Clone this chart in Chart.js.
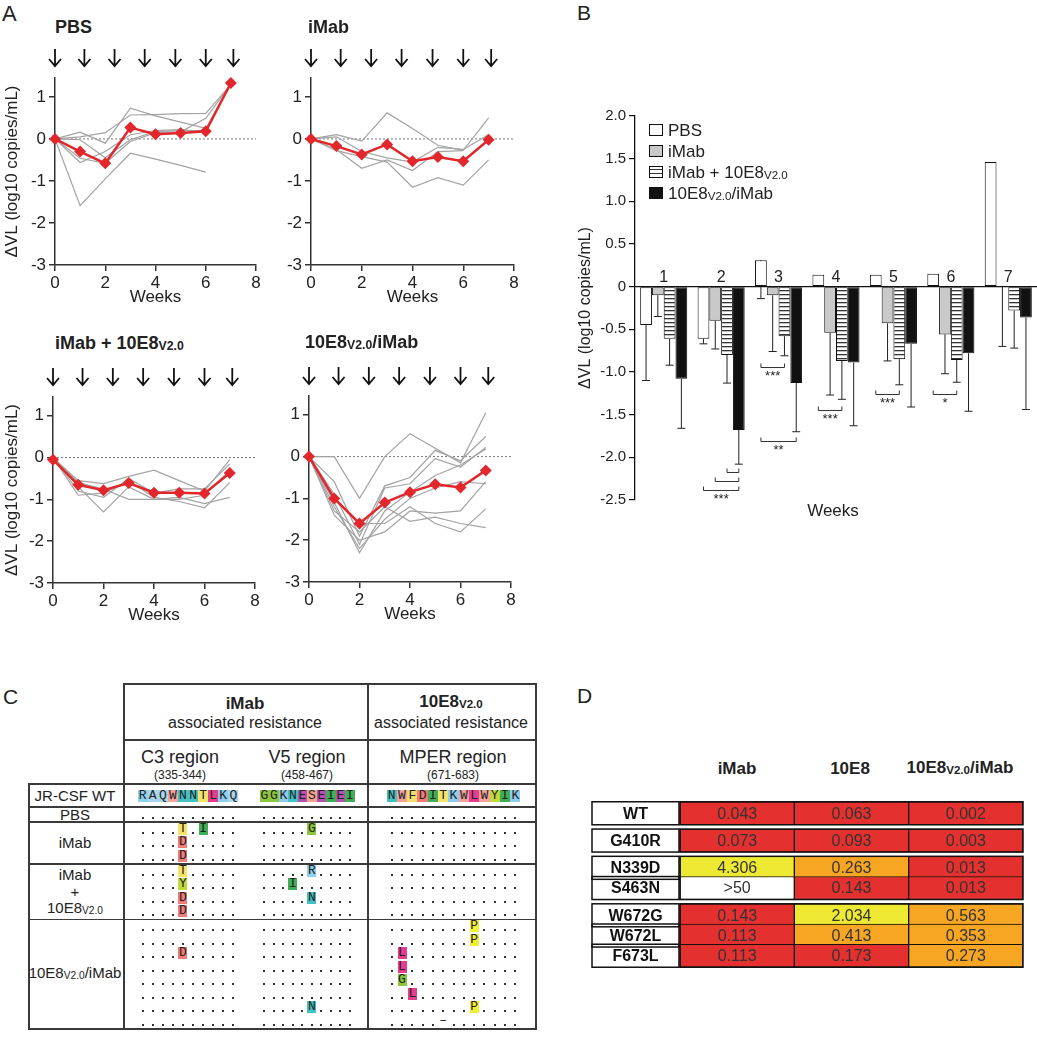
<!DOCTYPE html>
<html>
<head>
<meta charset="utf-8">
<title>Viral load and resistance</title>
<script src="https://cdn.jsdelivr.net/npm/chart.js@4.4.1/dist/chart.umd.min.js"></script>
<style>
  body{margin:0;background:#fff;font-family:"Liberation Sans",Arial,sans-serif;color:#222}
  #page{position:relative;width:1037px;height:1050px;overflow:hidden}
  #page canvas{position:absolute}
  .t{position:absolute;white-space:nowrap;line-height:1;transform:translate(-50%,-50%)}
  .l{position:absolute;white-space:nowrap;line-height:1}
  .s{font-size:68%;vertical-align:-0.12em}
  .b{font-weight:bold}
  .ln{position:absolute;background:#3a3a3a}
  .aa{position:absolute;font-family:"Liberation Mono","DejaVu Sans Mono",monospace;font-size:13px;line-height:12px;height:12px;text-align:center;color:#222}
  .dot{position:absolute;width:2px;height:2px;background:#333}
  .key{position:absolute;width:12px;height:10px;border:1px solid #111}
</style>
</head>
<body>
<div id="page"></div>
<script>
// panel A : change of viral load per week
var weeks=[0,1,2,3,4,5,6,7]
var doseWeeks=[0,1.17,2.37,3.57,4.79,6.0,7.1]

var pbsMean=[0,-0.3,-0.58,0.27,0.11,0.14,0.18,1.33]
var pbsAnimals=[
  [0,0.16,-0.1,0.73,0.55,0.4,0.25,1.3],
  [0,0.05,0.15,0.57,0.58,0.6,0.61,1.3],
  [0,-0.02,-0.45,-0.02,0.18,0.2,0.2,null],
  [0,-0.46,-0.58,-0.06,0.15,0.17,0.49,1.3],
  [0,-1.59,-0.95,-0.34,-0.48,-0.63,-0.79,null],
  [0,-0.56,-0.3,0.1,0.2,0.22,0.17,null]
]
var imabMean=[0,-0.17,-0.37,-0.13,-0.53,-0.43,-0.53,-0.02]
var imabAnimals=[
  [0,0.1,-0.05,0.62,0.25,-0.15,-0.27,0.5],
  [0,-0.25,-0.7,-0.5,-0.75,-0.3,-0.28,null],
  [0,-0.28,-0.42,-0.55,-1.15,-0.92,-1.1,-0.5],
  [0,0.05,-0.3,-0.45,-0.55,-0.2,-0.25,0.1]
]
var comboMean=[-0.05,-0.65,-0.78,-0.61,-0.84,-0.84,-0.86,-0.37]
var comboAnimals=[
  [0,-0.55,-0.62,-0.45,-0.3,-0.55,-0.8,-0.05],
  [0,-0.8,-0.95,-0.5,-0.85,-0.75,-0.75,-0.15],
  [0,-0.7,-1.3,-0.7,-1.0,-0.95,-1.1,-0.95],
  [0,-0.6,-0.75,-1.0,-1.0,-1.0,-0.9,-0.3],
  [0,-0.9,-0.85,-0.55,-0.95,-1.05,-1.2,-0.6]
]
var bispMean=[0,-1.0,-1.6,-1.1,-0.85,-0.66,-0.74,-0.33]
var bispAnimals=[
  [0,0,-1.0,0,0.55,0.2,-0.15,1.05],
  [0,-0.6,-1.9,-0.7,-0.5,0.15,-0.1,0.48],
  [0,-0.9,-2.1,-0.75,-0.65,-0.05,-0.25,0.22],
  [0,-1.1,-2.3,-1.3,-0.85,-0.45,-0.2,0.18],
  [0,-1.2,-2.2,-1.5,-1.0,-0.75,-0.6,-0.65],
  [0,-1.3,-1.8,-1.2,-1.55,-1.45,-1.6,-1.7],
  [0,-1.4,-2.0,-1.8,-1.3,-1.35,-1.3,-0.6],
  [0,-1.0,-1.6,-1.6,-1.2,-1.6,-1.8,-1.25]
]

// panel B : mean change and SD per week
var barWeeks=['1','2','3','4','5','6','7']
var pbsVL=[-0.45,-0.61,0.31,0.14,0.14,0.15,1.46]
var pbsSD=[0.65,0.06,0.45,null,null,null,null]
var imabVL=[-0.10,-0.40,-0.10,-0.54,-0.43,-0.56,0]
var imabSD=[0.25,0.33,0.66,0.73,0.44,0.46,0.70]
var comboVL=[-0.61,-0.80,-0.58,-0.87,-0.85,-0.86,-0.28]
var comboSD=[0.31,0.33,0.23,0.45,0.30,0.26,0.44]
var bispVL=[-1.08,-1.68,-1.13,-0.89,-0.67,-0.78,-0.36]
var bispSD=[0.58,0.40,0.57,0.74,0.74,0.68,1.08]
var sigWeek=[1,1,1,2,2,3,4,5]
var sigFrom=[2,1,0,0,0,0,0,0]
var sigTo=[3,3,3,2,3,2,2,2]
var sigY=[-2.17,-2.28,-2.38,-0.94,-1.81,-1.45,-1.26,-1.26]
var sigStars=['','','***','***','**','***','***','*']

// panel C : sequences
var c3WT='RAQWNNTLKQ'
var v5WT='GGKNESEIEI'
var mperWT='NWFDITKWLWYIK'
var c3Rows=[
  ['..........'],
  ['....T.I...','....D.....','....D.....'],
  ['....T.....','....Y.....','....D.....','....D.....'],
  ['..........','..........','....D.....','..........','..........','..........','..........','..........']
]
var v5Rows=[
  ['..........'],
  ['.....G....','..........','..........'],
  ['.....R....','...I......','.....N....','..........'],
  ['..........','..........','..........','..........','..........','..........','.....N....','..........']
]
var mperRows=[
  ['.............'],
  ['.............','.............','.............'],
  ['.............','.............','.............','.............'],
  ['........P....','........P....','.L...........','.L...........','.G...........','..L..........','........P....','.....-.......']
]

// panel D : IC50
var mutants=['WT','G410R','N339D','S463N','W672G','W672L','F673L']
var mutantGroup=[0,1,2,2,3,3,3]
var ic50iMab=[0.043,0.073,4.306,'>50',0.143,0.113,0.113]
var ic5010E8=[0.063,0.093,0.263,0.143,2.034,0.413,0.173]
var ic50Bisp=[0.002,0.003,0.013,0.013,0.563,0.353,0.273]

var aaColor={R:'#8fd0ec',A:'#a9d6ec',Q:'#a9d6ec',W:'#f4a29a',N:'#45c1c4',T:'#f5e36a',L:'#e63c8d',K:'#8dcdf0',
  G:'#8dc63f',E:'#b352ad',S:'#f5a48c',I:'#3fae55',F:'#f3de6b',D:'#f07b78',Y:'#c2d93e',P:'#f3ee35'}

var page=document.getElementById('page')
Chart.defaults.font.family='"Liberation Sans", Arial, sans-serif'
Chart.defaults.color='#222'

function put(html,x,y,css,cls){
  var d=document.createElement('div')
  d.className=cls||'t'
  d.innerHTML=html
  d.style.left=x+'px'
  d.style.top=y+'px'
  if(css) d.style.cssText+=css
  page.appendChild(d)
  return d
}
function line(x1,y1,x2,y2,w){
  var d=document.createElement('div')
  d.className='ln'
  w=w||1.5
  d.style.left=x1+'px'
  d.style.top=y1+'px'
  d.style.width=(x2>x1? x2-x1 : w)+'px'
  d.style.height=(y2>y1? y2-y1 : w)+'px'
  page.appendChild(d)
}
function makeCanvas(left,top,w,h){
  var c=document.createElement('canvas')
  c.width=w
  c.height=h
  c.style.left=left+'px'
  c.style.top=top+'px'
  c.style.width=w+'px'
  c.style.height=h+'px'
  page.appendChild(c)
  return c
}

// ---------- A ----------
var arrowPlugin={
  id:'arrows',
  afterDraw(chart){
    var ctx=chart.ctx, x=chart.scales.x, top=chart.chartArea.top
    ctx.save()
    ctx.strokeStyle='#111'
    ctx.lineWidth=1.8
    for(let w of doseWeeks){
      let px=x.getPixelForValue(w)
      ctx.beginPath()
      ctx.moveTo(px,top-29)
      ctx.lineTo(px,top-12)
      ctx.moveTo(px-6,top-19)
      ctx.lineTo(px,top-12)
      ctx.lineTo(px+6,top-19)
      ctx.stroke()
    }
    ctx.restore()
  }
}
function toPoints(vals){
  return weeks.map(function(w,i){ return {x:w,y:vals[i]} })
}
function lineChart(box,mean,animals,withTitle){
  var zone=makeCanvas(box.left,box.top,box.w,box.h)
  var datasets=[{data:toPoints(mean),borderColor:'#e2272c',borderWidth:2.5,pointStyle:'rectRot',pointRadius:6,
    pointBackgroundColor:'#e2272c',pointBorderColor:'#e2272c',pointBorderWidth:0,clip:false}]
  for(let a of animals){
    datasets.push({data:toPoints(a),borderColor:'#a3a3a3',borderWidth:1.2,pointRadius:0})
  }
  datasets.push({data:[{x:0,y:0},{x:8,y:0}],borderColor:'#777',borderWidth:1,borderDash:[2,2],pointRadius:0})
  return new Chart(zone,{
    type:'line',
    data:{datasets:datasets},
    options:{
      responsive:false, animation:false, events:[], devicePixelRatio:1,
      layout:{padding:{top:box.pt,right:box.pr,bottom:0,left:0}},
      plugins:{legend:{display:false},tooltip:{enabled:false}},
      scales:{
        x:{type:'linear',min:0,max:8,
          ticks:{stepSize:2,font:{size:17},color:'#222',padding:2},
          grid:{drawOnChartArea:false,tickLength:6,color:'#333',lineWidth:1.5},
          border:{color:'#333',width:1.5},
          title:{display:true,text:'Weeks',font:{size:17},color:'#222',padding:{top:0,bottom:2}},
          afterFit:function(s){ s.height=45 }},
        y:{min:-3,max:1.45,
          ticks:{stepSize:1,font:{size:17},color:'#222',padding:3,autoSkip:false},
          afterBuildTicks:function(s){ s.ticks=s.ticks.filter(function(t){ return Number.isInteger(t.value) }) },
          grid:{drawOnChartArea:false,tickLength:6,color:'#333',lineWidth:1.5},
          border:{color:'#333',width:1.5},
          title:{display:withTitle,text:'ΔVL (log10 copies/mL)',font:{size:17},color:'#222',padding:{top:2,bottom:0}},
          afterFit:function(s){ s.width=box.yw }}
      }
    },
    plugins:[arrowPlugin]
  })
}

put('A',2,3,'font-size:22px','l')
lineChart({left:0,top:40,w:270,h:270,pt:38,pr:14,yw:55},pbsMean,pbsAnimals,true)
lineChart({left:256,top:40,w:272,h:270,pt:38,pr:14,yw:55},imabMean,imabAnimals,false)
lineChart({left:0,top:359,w:270,h:269,pt:38,pr:15,yw:53},comboMean,comboAnimals,true)
lineChart({left:254,top:358,w:271,h:269,pt:38,pr:14,yw:55},bispMean,bispAnimals,false)
put('PBS',55,18,'font-size:18px','l b')
put('iMab',308,18,'font-size:18px','l b')
put('iMab + 10E8<span class="s">V2.0</span>',55,334,'font-size:18px','l b')
put('10E8<span class="s">V2.0</span>/iMab',305,333,'font-size:18px','l b')

// ---------- B ----------
var zoneB=makeCanvas(570,100,467,412)
var gb=zoneB.getContext('2d')
var tile=document.createElement('canvas')
tile.width=4
tile.height=4
var tg=tile.getContext('2d')
tg.fillStyle='#fff'
tg.fillRect(0,0,4,4)
tg.fillStyle='#333'
tg.fillRect(0,2,4,1.3)
var stripes=gb.createPattern(tile,'repeat')

var barExtras={
  id:'barExtras',
  beforeDatasetsDraw(chart){
    var ctx=chart.ctx, y=chart.scales.y
    ctx.save()
    ctx.strokeStyle='#222'
    ctx.lineWidth=1
    chart.data.datasets.forEach(function(ds,i){
      chart.getDatasetMeta(i).data.forEach(function(bar,j){
        var sd=ds.sd[j]
        if(sd==null) return
        var y0=y.getPixelForValue(ds.data[j]), y1=y.getPixelForValue(ds.data[j]-sd)
        ctx.beginPath()
        ctx.moveTo(bar.x,y0)
        ctx.lineTo(bar.x,y1)
        ctx.moveTo(bar.x-4,y1)
        ctx.lineTo(bar.x+4,y1)
        ctx.stroke()
      })
    })
    ctx.restore()
  },
  afterDatasetsDraw(chart){
    var ctx=chart.ctx, x=chart.scales.x, y=chart.scales.y
    ctx.save()
    ctx.fillStyle='#222'
    ctx.textAlign='center'
    ctx.textBaseline='middle'
    ctx.font='16px "Liberation Sans", Arial'
    barWeeks.forEach(function(w,j){
      ctx.fillText(w,x.getPixelForValue(j),y.getPixelForValue(0)-9)
    })
    ctx.strokeStyle='#333'
    ctx.lineWidth=1
    ctx.font='13px "Liberation Sans", Arial'
    ctx.textBaseline='top'
    for(let k=0;k<sigWeek.length;k++){
      let xa=chart.getDatasetMeta(sigFrom[k]).data[sigWeek[k]].x
      let xb=chart.getDatasetMeta(sigTo[k]).data[sigWeek[k]].x
      let py=Math.round(y.getPixelForValue(sigY[k]))+0.5
      ctx.beginPath()
      ctx.moveTo(xa,py-4)
      ctx.lineTo(xa,py)
      ctx.lineTo(xb,py)
      ctx.lineTo(xb,py-4)
      ctx.stroke()
      if(sigStars[k]) ctx.fillText(sigStars[k],(xa+xb)/2,py+2)
    }
    ctx.restore()
  }
}

new Chart(zoneB,{
  type:'bar',
  data:{
    labels:barWeeks,
    datasets:[
      {label:'PBS',data:pbsVL,sd:pbsSD,backgroundColor:'#fff',borderColor:'#111',borderWidth:1,borderSkipped:false},
      {label:'iMab',data:imabVL,sd:imabSD,backgroundColor:'#c9c9c9',borderColor:'#111',borderWidth:1,borderSkipped:false},
      {label:'iMab + 10E8V2.0',data:comboVL,sd:comboSD,backgroundColor:stripes,borderColor:'#111',borderWidth:1,borderSkipped:false},
      {label:'10E8V2.0/iMab',data:bispVL,sd:bispSD,backgroundColor:'#111',borderColor:'#111',borderWidth:1,borderSkipped:false}
    ]
  },
  options:{
    responsive:false, animation:false, events:[], devicePixelRatio:1,
    categoryPercentage:0.82, barPercentage:1,
    layout:{padding:{top:16,right:0,bottom:2,left:0}},
    plugins:{legend:{display:false},tooltip:{enabled:false}},
    scales:{
      x:{position:{y:0},grid:{display:false},ticks:{display:false},border:{color:'#111',width:1.3}},
      y:{min:-2.5,max:2,
        ticks:{stepSize:0.5,font:{size:15},color:'#222',padding:3,
          callback:function(v){ return v===0? '0' : v.toFixed(1) }},
        grid:{drawOnChartArea:false,tickLength:6,color:'#111',lineWidth:1.2},
        border:{color:'#111',width:1.3},
        title:{display:true,text:'ΔVL (log10 copies/mL)',font:{size:16},color:'#222',padding:{top:6,bottom:0}},
        afterFit:function(s){ s.width=65 }}
    }
  },
  plugins:[barExtras]
})
put('B',577,2,'font-size:21px','l')
put('Weeks',833,510,'font-size:17px')
var legendNames=['PBS','iMab','iMab + 10E8<span class="s">V2.0</span>','10E8<span class="s">V2.0</span>/iMab']
var legendFills=['#fff','#c9c9c9','repeating-linear-gradient(#fff 0 2px,#333 2px 3.3px,#fff 3.3px 4px)','#111']
legendNames.forEach(function(n,i){
  var cy=130+i*21
  var k=document.createElement('div')
  k.className='key'
  k.style.left='649px'
  k.style.top=(cy-6)+'px'
  k.style.background=legendFills[i]
  page.appendChild(k)
  put(n,668,cy-8,'font-size:17px','l')
})

// ---------- C ----------
put('C',3,686,'font-size:21px','l')
var regions=[
  {wt:c3WT,rows:c3Rows,x0:142.7,step:10.07},
  {wt:v5WT,rows:v5Rows,x0:264.3,step:9.5},
  {wt:mperWT,rows:mperRows,x0:391.7,step:10.3}
]
function aaCell(ch,cx,cy,w){
  var d=document.createElement('div')
  d.className='aa'
  d.textContent=ch
  d.style.left=(cx-w/2)+'px'
  d.style.top=(cy-6)+'px'
  d.style.width=w+'px'
  if(aaColor[ch]) d.style.background=aaColor[ch]
  page.appendChild(d)
}
function dot(cx,cy){
  var d=document.createElement('div')
  d.className='dot'
  d.style.left=(cx-1)+'px'
  d.style.top=(cy+3)+'px'
  page.appendChild(d)
}
put('iMab',245,703,'font-size:17px','t b')
put('associated resistance',245,723,'font-size:16px')
put('10E8<span class="s">V2.0</span>',451,702,'font-size:17px','t b')
put('associated resistance',451,723,'font-size:16px')
put('C3 region',180,757,'font-size:18px')
put('(335-344)',180,775,'font-size:12px')
put('V5 region',307,757,'font-size:18px')
put('(458-467)',307,775,'font-size:12px')
put('MPER region',453,757,'font-size:18px')
put('(671-683)',453,775,'font-size:12px')
put('JR-CSF WT',75,795,'font-size:15px')

regions.forEach(function(r){
  for(let i=0;i<r.wt.length;i++) aaCell(r.wt[i],r.x0+i*r.step,795.5,r.step)
})
var groupLabels=[['PBS'],['iMab'],['iMab','+','10E8<span class="s">V2.0</span>'],['10E8<span class="s">V2.0</span>/iMab']]
var secTop=806
var secLines=[683,739,783,806]
for(let g=0;g<c3Rows.length;g++){
  let n=c3Rows[g].length
  let h=13.5*n+1.5
  groupLabels[g].forEach(function(t,k){
    put(t,75,secTop+h/2+(k-(groupLabels[g].length-1)/2)*17,'font-size:15px')
  })
  for(let i=0;i<n;i++){
    let cy=secTop+7.5+i*13.5
    regions.forEach(function(r){
      let row=r.rows[g][i]
      for(let p=0;p<row.length;p++){
        let cx=r.x0+p*r.step
        if(row[p]=='.') dot(cx,cy)
        else aaCell(row[p]=='-'?'–':row[p],cx,cy,9)
      }
    })
  }
  secTop+=h
  secLines.push(secTop)
}
secLines.forEach(function(y,k){
  line(k<2?123:28,y,536,y)
})
line(123,683,123,secTop+1.5)
line(367,683,367,secTop+1.5)
line(535,683,535,secTop+1.5)
line(28,783,28,secTop+1.5)

// ---------- D ----------
put('D',577,685,'font-size:21px','l')
put('iMab',737,768,'font-size:17px','t b')
put('10E8',850,768,'font-size:17px','t b')
put('10E8<span class="s">V2.0</span>/iMab',960,768,'font-size:17px','t b')

var rowPos=mutants.map(function(m,i){ return i+mutantGroup[i]*0.35+0.5 })
function heat(v){
  if(v==='>50') return '#ffffff'
  if(v>=1) return '#eee932'
  if(v>=0.2) return '#f6a623'
  return '#e4302e'
}
var heatText={
  id:'heatText',
  afterDatasetsDraw(chart){
    var ctx=chart.ctx, y=chart.scales.y, area=chart.chartArea
    ctx.save()
    ctx.textAlign='center'
    ctx.textBaseline='middle'
    ctx.font='16px "Liberation Sans", Arial'
    ctx.fillStyle='#333'
    chart.data.datasets.forEach(function(ds,i){
      chart.getDatasetMeta(i).data.forEach(function(bar,j){
        ctx.fillText(String(ds.values[j]),(bar.x+bar.base)/2,bar.y+1)
      })
    })
    ctx.strokeStyle='#111'
    ctx.lineWidth=1.5
    ctx.fillStyle='#111'
    ctx.font='bold 16px "Liberation Sans", Arial'
    mutants.forEach(function(m,i){
      var py=y.getPixelForValue(rowPos[i])
      ctx.strokeRect(area.left-88,py-11.5,87,23)
      ctx.fillText(m,area.left-44.5,py+1)
    })
    for(let g=0;g<=3;g++){
      let idx=[]
      mutantGroup.forEach(function(v,i){ if(v==g) idx.push(i) })
      let top=y.getPixelForValue(rowPos[idx[0]])-11.5
      let bot=y.getPixelForValue(rowPos[idx[idx.length-1]])+11.5
      ctx.strokeRect(area.left,top,area.right-area.left,bot-top)
    }
    ctx.restore()
  }
}
var ic50Cols=[ic50iMab,ic5010E8,ic50Bisp]
new Chart(makeCanvas(585,785,445,200),{
  type:'bar',
  data:{
    datasets:ic50Cols.map(function(col,c){
      return {
        data:col.map(function(v,i){ return {x:[c,c+1],y:rowPos[i]} }),
        values:col,
        backgroundColor:col.map(heat),
        borderColor:'#111',borderWidth:1,borderSkipped:false,barThickness:23,grouped:false
      }
    })
  },
  options:{
    indexAxis:'y',
    responsive:false, animation:false, events:[], devicePixelRatio:1,
    layout:{padding:{top:8,right:7,bottom:9,left:95}},
    plugins:{legend:{display:false},tooltip:{enabled:false}},
    scales:{
      x:{type:'linear',min:0,max:3,display:false},
      y:{type:'linear',min:0,max:8.05,reverse:true,display:false}
    }
  },
  plugins:[heatText]
})
</script>
</body>
</html>
